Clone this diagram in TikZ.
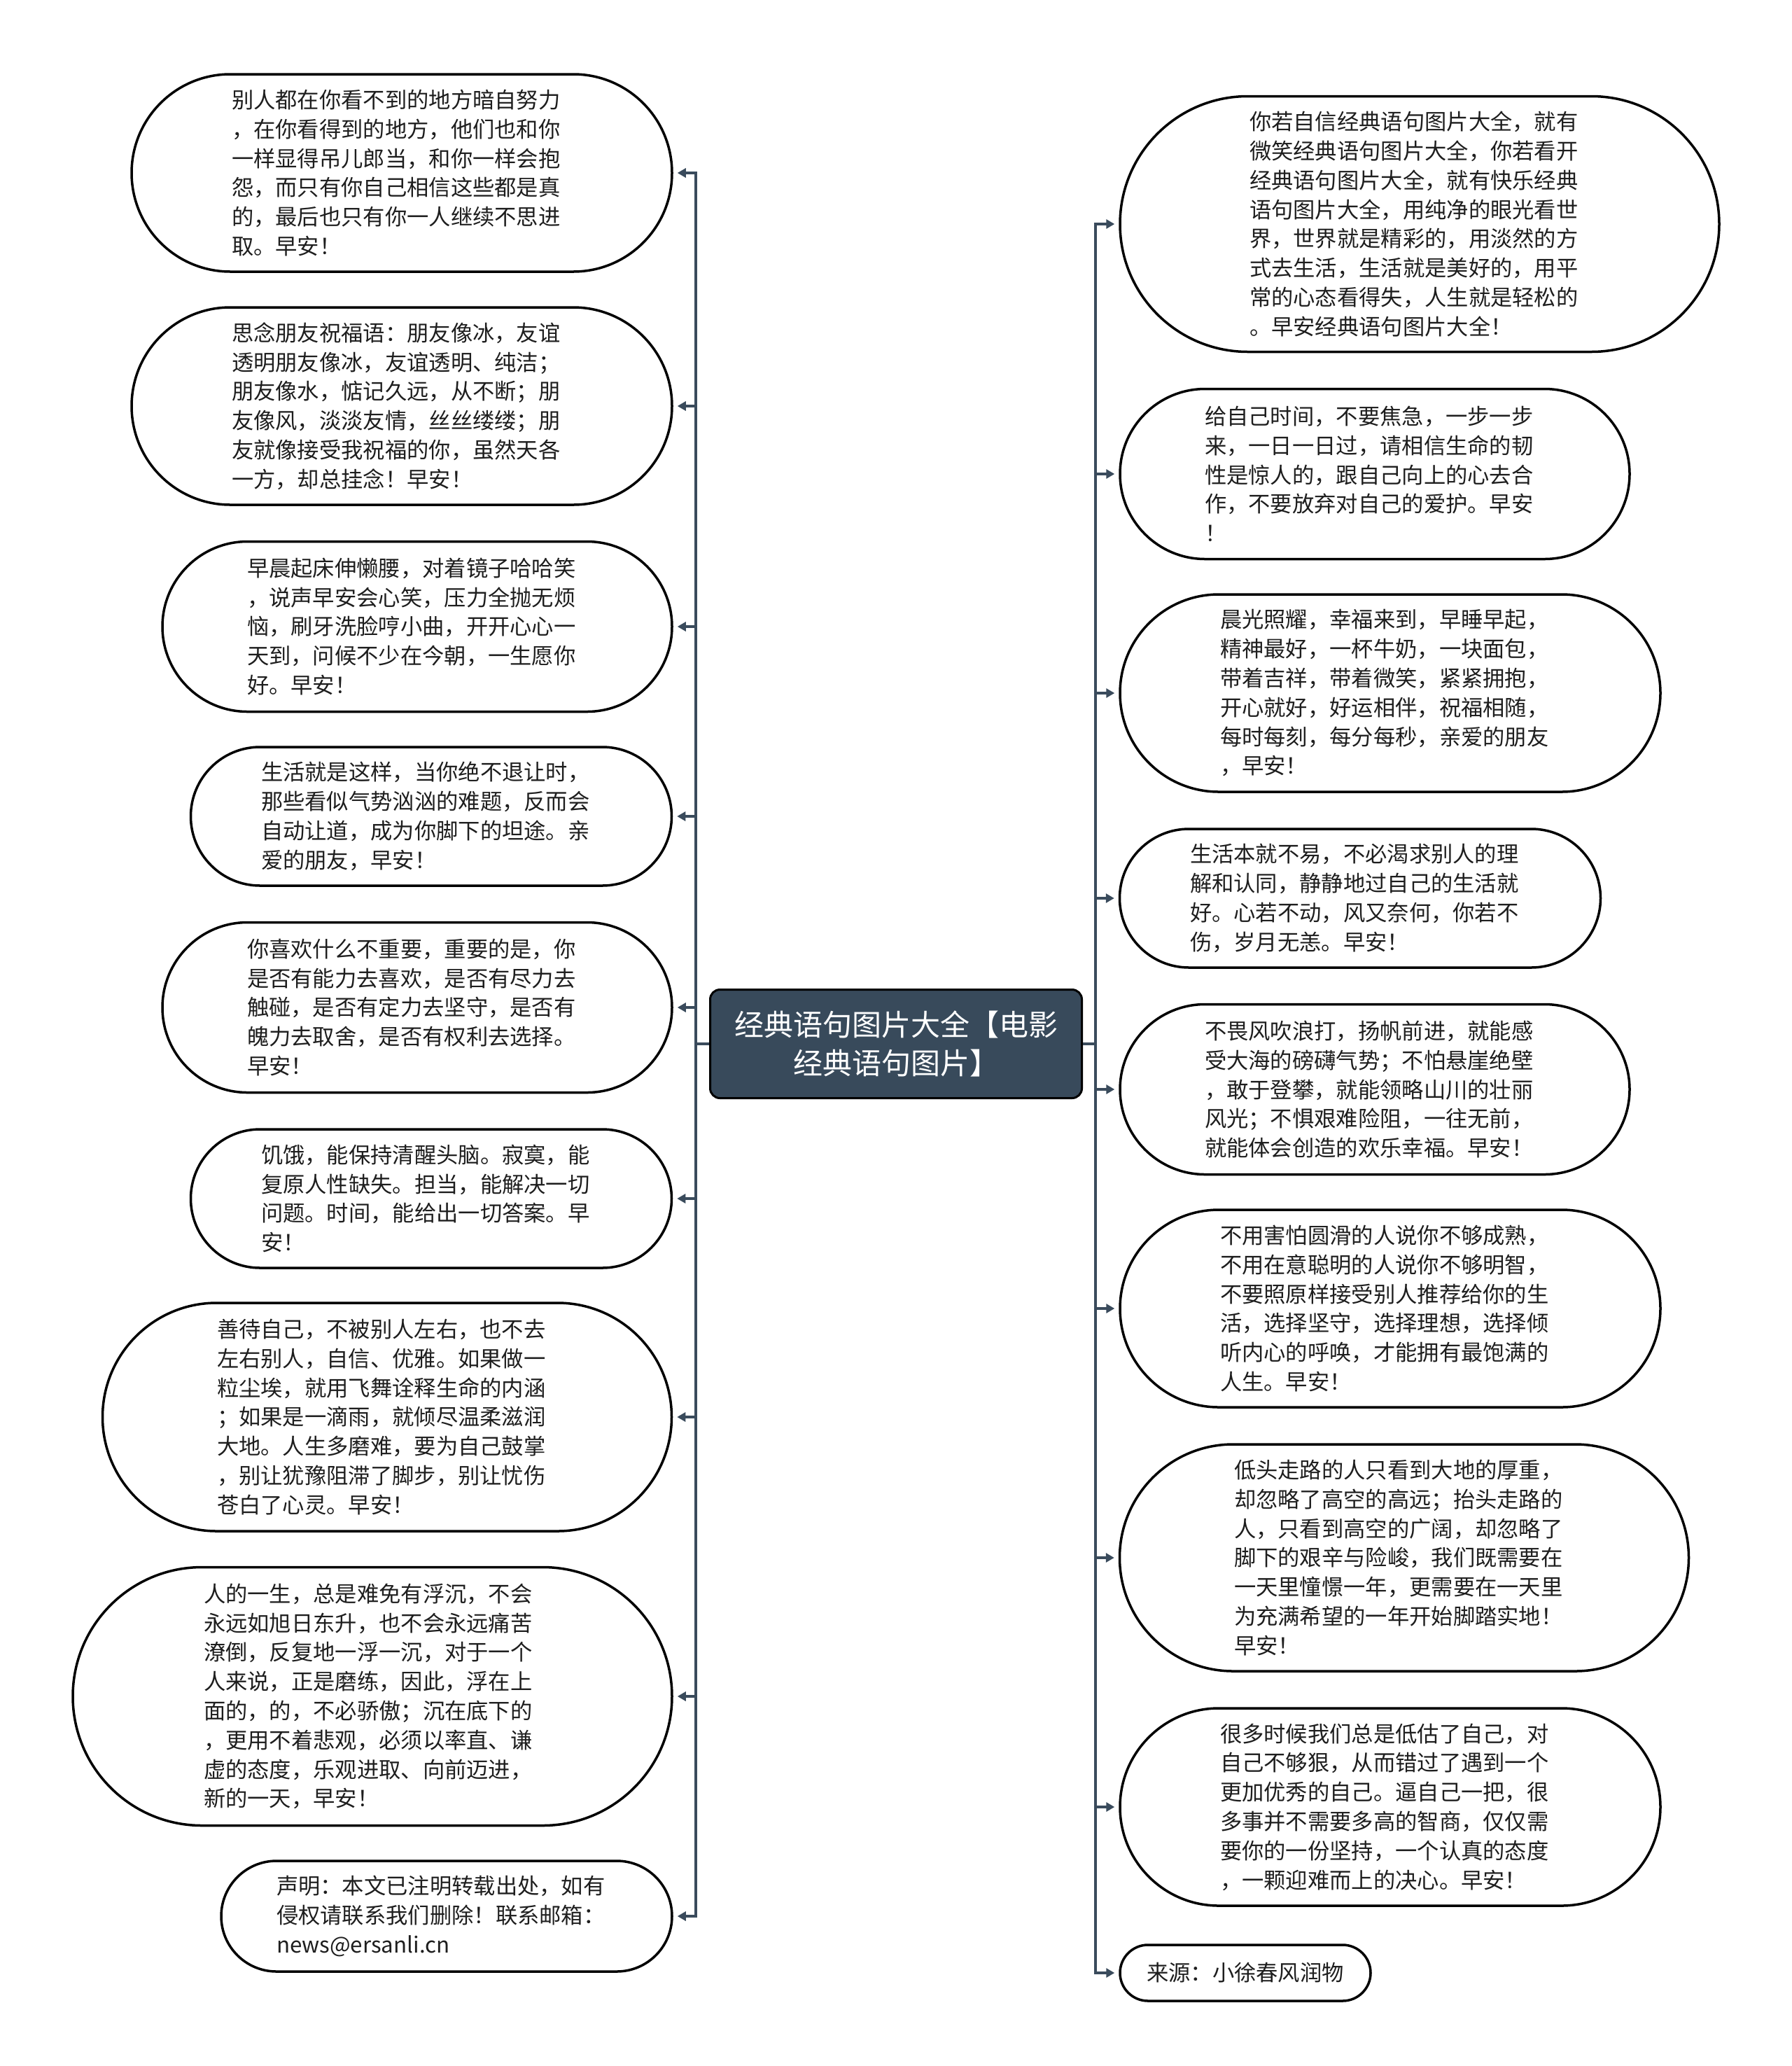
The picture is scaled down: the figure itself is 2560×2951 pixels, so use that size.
\documentclass[tikz,border=0pt]{standalone}
\usepackage{fontspec}
\newfontfamily\cjk{Noto Sans CJK SC}
\usetikzlibrary{shapes.misc,arrows.meta}
\definecolor{connc}{HTML}{3A4B5C}
\definecolor{hubc}{HTML}{384A5B}
\definecolor{inkc}{HTML}{1E1E1E}
\begin{document}
\begin{tikzpicture}[x=1pt,y=-1pt,
 pill/.style={draw=black, line width=3.5pt, fill=white, rounded rectangle, inner sep=0pt,
   font=\cjk\fontsize{31.3pt}{41.8pt}\selectfont, text=inkc},
 leaf/.style={pill, text width=486pt, align=left},
 hubnode/.style={draw=black, line width=3pt, fill=hubc, rounded corners=14pt, inner sep=0pt,
   font=\cjk\fontsize{42pt}{55pt}\selectfont, text=white, align=center},
 link/.style={draw=connc, line width=3.5pt, -{Triangle[length=12pt,width=13pt]}, shorten >=6pt},
 trunk/.style={draw=connc, line width=3.5pt}]
\useasboundingbox (0,0) rectangle (2560,2951);
\fill[white] (0,0) rectangle (2560,2951);

% hub
\node[hubnode, minimum width=531pt, minimum height=155pt] (hub) at (1280,1491)
 {经典语句图片大全【电影\\经典语句图片】};

% left leaves
\node[leaf, minimum width=772pt, minimum height=282pt] (l1) at (574,247)
 {别人都在你看不到的地方暗自努力\\，在你看得到的地方，他们也和你\\一样显得吊儿郎当，和你一样会抱\\怨，而只有你自己相信这些都是真\\的，最后也只有你一人继续不思进\\取。早安！};
\node[leaf, minimum width=772pt, minimum height=282pt] (l2) at (574,580)
 {思念朋友祝福语：朋友像冰，友谊\\透明朋友像冰，友谊透明、纯洁；\\朋友像水，惦记久远，从不断；朋\\友像风，淡淡友情，丝丝缕缕；朋\\友就像接受我祝福的你，虽然天各\\一方，却总挂念！早安！};
\node[leaf, minimum width=728pt, minimum height=243pt] (l3) at (596,895)
 {早晨起床伸懒腰，对着镜子哈哈笑\\，说声早安会心笑，压力全抛无烦\\恼，刷牙洗脸哼小曲，开开心心一\\天到，问候不少在今朝，一生愿你\\好。早安！};
\node[leaf, minimum width=687pt, minimum height=198pt] (l4) at (616,1166)
 {生活就是这样，当你绝不退让时，\\那些看似气势汹汹的难题，反而会\\自动让道，成为你脚下的坦途。亲\\爱的朋友，早安！};
\node[leaf, minimum width=728pt, minimum height=243pt] (l5) at (596,1439)
 {你喜欢什么不重要，重要的是，你\\是否有能力去喜欢，是否有尽力去\\触碰，是否有定力去坚守，是否有\\魄力去取舍，是否有权利去选择。\\早安！};
\node[leaf, minimum width=687pt, minimum height=198pt] (l6) at (616,1712)
 {饥饿，能保持清醒头脑。寂寞，能\\复原人性缺失。担当，能解决一切\\问题。时间，能给出一切答案。早\\安！};
\node[leaf, minimum width=813pt, minimum height=326pt] (l7) at (553,2024)
 {善待自己，不被别人左右，也不去\\左右别人，自信、优雅。如果做一\\粒尘埃，就用飞舞诠释生命的内涵\\；如果是一滴雨，就倾尽温柔滋润\\大地。人生多磨难，要为自己鼓掌\\，别让犹豫阻滞了脚步，别让忧伤\\苍白了心灵。早安！};
\node[leaf, minimum width=856pt, minimum height=369pt, text width=482pt] (l8) at (532,2423)
 {人的一生，总是难免有浮沉，不会\\永远如旭日东升，也不会永远痛苦\\潦倒，反复地一浮一沉，对于一个\\人来说，正是磨练，因此，浮在上\\面的，的，不必骄傲；沉在底下的\\，更用不着悲观，必须以率直、谦\\虚的态度，乐观进取、向前迈进，\\新的一天，早安！};
\node[leaf, minimum width=644pt, minimum height=158pt] (l9) at (638,2737)
 {声明：本文已注明转载出处，如有\\侵权请联系我们删除！联系邮箱：\\news@ersanli.cn};

% right leaves
\node[leaf, minimum width=856pt, minimum height=365pt] (r1) at (2028,320)
 {你若自信经典语句图片大全，就有\\微笑经典语句图片大全，你若看开\\经典语句图片大全，就有快乐经典\\语句图片大全，用纯净的眼光看世\\界，世界就是精彩的，用淡然的方\\式去生活，生活就是美好的，用平\\常的心态看得失，人生就是轻松的\\。早安经典语句图片大全！};
\node[leaf, minimum width=728pt, minimum height=243pt] (r2) at (1964,677)
 {给自己时间，不要焦急，一步一步\\来，一日一日过，请相信生命的韧\\性是惊人的，跟自己向上的心去合\\作，不要放弃对自己的爱护。早安\\！};
\node[leaf, minimum width=772pt, minimum height=282pt] (r3) at (1986,990)
 {晨光照耀，幸福来到，早睡早起，\\精神最好，一杯牛奶，一块面包，\\带着吉祥，带着微笑，紧紧拥抱，\\开心就好，好运相伴，祝福相随，\\每时每刻，每分每秒，亲爱的朋友\\，早安！};
\node[leaf, minimum width=687pt, minimum height=198pt] (r4) at (1943,1283)
 {生活本就不易，不必渴求别人的理\\解和认同，静静地过自己的生活就\\好。心若不动，风又奈何，你若不\\伤，岁月无恙。早安！};
\node[leaf, minimum width=728pt, minimum height=243pt] (r5) at (1964,1556)
 {不畏风吹浪打，扬帆前进，就能感\\受大海的磅礴气势；不怕悬崖绝壁\\，敢于登攀，就能领略山川的壮丽\\风光；不惧艰难险阻，一往无前，\\就能体会创造的欢乐幸福。早安！};
\node[leaf, minimum width=772pt, minimum height=282pt] (r6) at (1986,1869)
 {不用害怕圆滑的人说你不够成熟，\\不用在意聪明的人说你不够明智，\\不要照原样接受别人推荐给你的生\\活，选择坚守，选择理想，选择倾\\听内心的呼唤，才能拥有最饱满的\\人生。早安！};
\node[leaf, minimum width=813pt, minimum height=324pt] (r7) at (2006,2225)
 {低头走路的人只看到大地的厚重，\\却忽略了高空的高远；抬头走路的\\人，只看到高空的广阔，却忽略了\\脚下的艰辛与险峻，我们既需要在\\一天里憧憬一年，更需要在一天里\\为充满希望的一年开始脚踏实地！\\早安！};
\node[leaf, minimum width=772pt, minimum height=282pt] (r8) at (1986,2581)
 {很多时候我们总是低估了自己，对\\自己不够狠，从而错过了遇到一个\\更加优秀的自己。逼自己一把，很\\多事并不需要多高的智商，仅仅需\\要你的一份坚持，一个认真的态度\\，一颗迎难而上的决心。早安！};
\node[pill, minimum width=358pt, minimum height=80pt] (r9) at (1779,2818)
 {来源：小徐春风润物};

% connectors
\coordinate (lb) at (994,1491);
\coordinate (rb) at (1565,1491);
\draw[trunk] (hub.west) -- (lb);
\draw[trunk] (hub.east) -- (rb);
\foreach \n in {l1,l2,l3,l4,l5,l6,l7,l8,l9}
  \draw[link] (lb) |- (\n.east);
\foreach \n in {r1,r2,r3,r4,r5,r6,r7,r8,r9}
  \draw[link] (rb) |- (\n.west);
\end{tikzpicture}
\end{document}
